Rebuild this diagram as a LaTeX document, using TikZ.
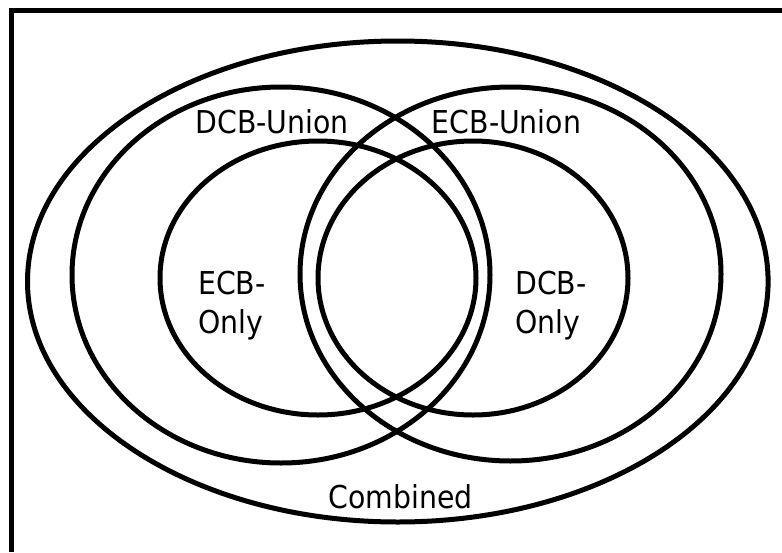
\documentclass[tikz,border=0pt]{standalone}
\usepackage{fontspec}
\setmainfont{DejaVu Sans}[FakeStretch=0.9]
\begin{document}
\begin{tikzpicture}[x=1pt,y=-1pt,
  setline/.style={line width=5pt,draw=black},
  lbl/.style={inner sep=0pt,font=\fontsize{31.5}{39}\selectfont}]
\useasboundingbox (0,0) rectangle (782,552);
% frame (top and left only)
\draw[line width=5pt,line join=miter] (782,10.7) -- (11.7,10.7) -- (11.7,552);
% sets
\draw[setline] (397.8,281.5) ellipse [x radius=370.3, y radius=240.5];
\draw[setline] (281,275) ellipse [x radius=209, y radius=188];
\draw[setline] (510.5,274) ellipse [x radius=210.5, y radius=187];
\draw[setline] (318,278) ellipse [x radius=158, y radius=137];
\draw[setline] (473,278) ellipse [x radius=155, y radius=137];
% labels
\node[lbl,anchor=base] (dcbu) at (272,133) {DCB-Union};
\node[lbl,anchor=base] (ecbu) at (506.5,133) {ECB-Union};
\node[lbl,anchor=base west] (ecbo1) at (198,294) {ECB-};
\node[lbl,anchor=base west] (ecbo2) at (198,333) {Only};
\node[lbl,anchor=base west] (dcbo1) at (515,294) {DCB-};
\node[lbl,anchor=base west] (dcbo2) at (515,333) {Only};
\node[lbl,anchor=base] (comb) at (400.5,508) {Combined};
\end{tikzpicture}
\end{document}
